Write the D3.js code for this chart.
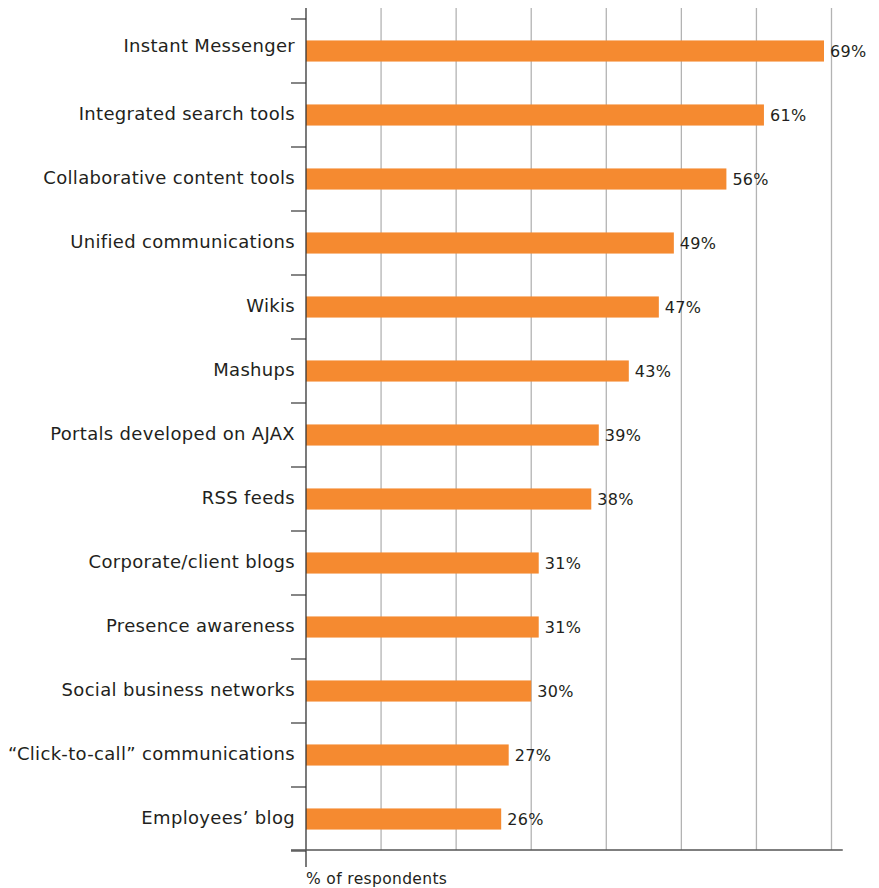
<!DOCTYPE html>
<html>
<head>
<meta charset="utf-8">
<script src="https://cdn.jsdelivr.net/npm/d3@7"></script>
<style>
  html, body { margin: 0; padding: 0; background: #fff; }
  svg { display: block; }
  text { font-family: "DejaVu Sans", Verdana, sans-serif; fill: #231f20; }
</style>
</head>
<body>
<svg id="chart" width="879" height="888"></svg>
<script>
// Survey answers, in display order (top to bottom)
const categories = [
  "Instant Messenger",
  "Integrated search tools",
  "Collaborative content tools",
  "Unified communications",
  "Wikis",
  "Mashups",
  "Portals developed on AJAX",
  "RSS feeds",
  "Corporate/client blogs",
  "Presence awareness",
  "Social business networks",
  "\u201cClick-to-call\u201d communications",
  "Employees\u2019 blog"
];
const values = [69, 61, 56, 49, 47, 43, 39, 38, 31, 31, 30, 27, 26];
const gridTicks = [10, 20, 30, 40, 50, 60, 70];
const axisTitle = "% of respondents";

const svg = d3.select("#chart");

const plotLeft = 306, plotRight = 831.5, plotTop = 19, plotBottom = 851;

const x = d3.scaleLinear().domain([0, 70]).range([plotLeft, plotRight]);
const y = d3.scaleBand().domain(categories).range([plotTop, plotBottom]).paddingInner(0.67).paddingOuter(0.335);
const mid = d => y(d) + y.bandwidth() / 2;

// vertical gridlines
svg.append("g")
  .selectAll("line")
  .data(gridTicks)
  .join("line")
  .attr("x1", d => x(d)).attr("x2", d => x(d))
  .attr("y1", 8).attr("y2", plotBottom - 1)
  .attr("stroke", "#b3b3b3")
  .attr("stroke-width", 1.3);

// bars
svg.append("g")
  .selectAll("rect")
  .data(values)
  .join("rect")
  .attr("x", x(0))
  .attr("y", (d, i) => y(categories[i]))
  .attr("width", d => x(d) - x(0))
  .attr("height", y.bandwidth())
  .attr("fill", "#f58a30");

// value labels
svg.append("g")
  .selectAll("text")
  .data(values)
  .join("text")
  .attr("x", d => x(d) + 6)
  .attr("y", (d, i) => mid(categories[i]))
  .attr("dy", "0.38em")
  .attr("font-size", 16)
  .attr("letter-spacing", 0.3)
  .text(d => d + "%");

// category axis: ticks on band boundaries, labels centred in bands
const step = y.step();
const bounds = d3.range(categories.length + 1).map(i => plotTop + i * step);
svg.append("g")
  .selectAll("line")
  .data(bounds)
  .join("line")
  .attr("x1", plotLeft - 15).attr("x2", plotLeft)
  .attr("y1", d => d).attr("y2", d => d)
  .attr("stroke", "#444")
  .attr("stroke-width", 1.3);

svg.append("g")
  .selectAll("text")
  .data(categories)
  .join("text")
  .attr("x", plotLeft - 11)
  .attr("y", (d, i) => mid(d) + (i === 0 ? -4.5 : 0))
  .attr("dy", "0.28em")
  .attr("text-anchor", "end")
  .attr("font-size", 18)
  .attr("letter-spacing", 0.32)
  .text(d => d);

// axis lines
svg.append("line")
  .attr("x1", plotLeft).attr("x2", plotLeft)
  .attr("y1", 8).attr("y2", 867)
  .attr("stroke", "#333").attr("stroke-width", 1.3);
svg.append("line")
  .attr("x1", plotLeft - 15).attr("x2", x(71.5))
  .attr("y1", plotBottom - 1).attr("y2", plotBottom - 1)
  .attr("stroke", "#555").attr("stroke-width", 1.5);

svg.append("text")
  .attr("x", plotLeft)
  .attr("y", 884)
  .attr("font-size", 15.5)
  .attr("letter-spacing", 0.35)
  .text(axisTitle);
</script>
</body>
</html>
